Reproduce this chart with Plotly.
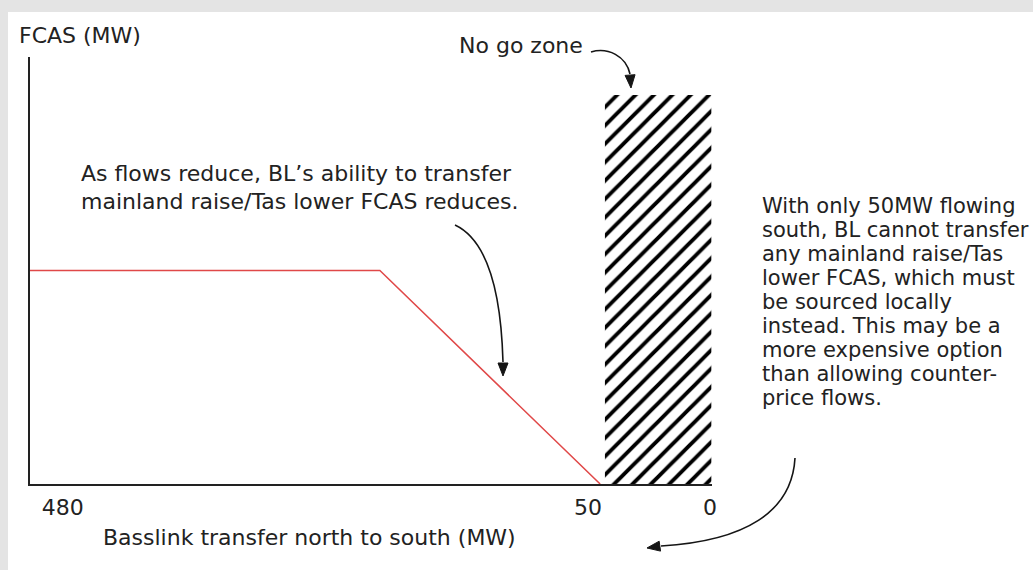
import math
import plotly.graph_objects as go

# ---------------- data (schematic positions) ----------------
transfer_tick_labels = ["480", "50", "0"]
transfer_tick_pos = [4.8, 81.8, 99.7]          # position of each label along the (schematic) transfer axis
fcas_curve_pos = [0.0, 51.3, 83.6]             # FCAS capability curve: transfer position
fcas_curve_level = [50.0, 50.0, 0.0]           # FCAS capability curve: level (schematic %)
nogo_pos = [84.3, 99.9]                        # "No go zone" extent along transfer axis
nogo_level = [0.0, 91.1]                       # "No go zone" vertical extent

y_axis_title = "FCAS (MW)"
x_axis_title = "Basslink transfer north to south (MW)"
nogo_text = "No go zone"
flow_note = ["As flows reduce, BL\u2019s ability to transfer",
             "mainland raise/Tas lower FCAS reduces."]
local_note = ["With only 50MW flowing",
              "south, BL cannot transfer",
              "any mainland raise/Tas",
              "lower FCAS, which must",
              "be sourced locally",
              "instead. This may be a",
              "more expensive option",
              "than allowing counter-",
              "price flows."]

# ---------------- layout helpers ----------------
W, H = 1033, 570
L, R, T, B = 30, 712, 57, 484
FONT = "DejaVu Sans"
TXT = "#222222"


def px(x):
    return (x - L) / (R - L)


def py(y):
    return (B - y) / (B - T)


def pt(x, y):
    return f"{px(x):.5f},{py(y):.5f}"


fig = go.Figure()

# no go zone (hatched)
fig.add_trace(go.Scatter(
    x=[nogo_pos[0], nogo_pos[1], nogo_pos[1], nogo_pos[0], nogo_pos[0]],
    y=[nogo_level[0], nogo_level[0], nogo_level[1], nogo_level[1], nogo_level[0]],
    mode="lines", line=dict(width=0, color="rgba(0,0,0,0)"),
    fill="toself", fillcolor="white",
    fillpattern=dict(shape="/", fgcolor="#000000", bgcolor="white", fgopacity=1,
                     fillmode="replace", size=13, solidity=0.3),
    hoverinfo="skip", showlegend=False,
))

# FCAS curve
fig.add_trace(go.Scatter(
    x=fcas_curve_pos, y=fcas_curve_level, mode="lines",
    line=dict(color="#e04848", width=1.5), showlegend=False,
))

shapes = []
# white panel over grey page
shapes.append(dict(type="rect", xref="paper", yref="paper",
                   x0=px(8), x1=px(1040), y0=py(12), y1=py(575),
                   fillcolor="white", line=dict(width=0), layer="below"))


def curve(p0, p1, p2, p3):
    return dict(type="path", xref="paper", yref="paper",
                path=f"M{pt(*p0)} C{pt(*p1)} {pt(*p2)} {pt(*p3)}",
                line=dict(color="#151515", width=1.6), layer="above")


def head(tip, frm, length=13, half=5):
    dx, dy = tip[0] - frm[0], tip[1] - frm[1]
    n = math.hypot(dx, dy)
    ux, uy = dx / n, dy / n
    bx, by = tip[0] - ux * length, tip[1] - uy * length
    lx, ly = bx - uy * half, by + ux * half
    rx, ry = bx + uy * half, by - ux * half
    return dict(type="path", xref="paper", yref="paper",
                path=f"M{pt(*tip)} L{pt(lx, ly)} L{pt(rx, ry)} Z",
                fillcolor="#151515", line=dict(color="#151515", width=1), layer="above")


# arrow: no go zone
shapes.append(curve((591, 52), (608, 47), (626, 56), (630, 74)))
shapes.append(head((631, 88), (630, 74)))
# arrow: flows reduce
shapes.append(curve((455, 225), (487, 240), (501, 290), (503, 362)))
shapes.append(head((503, 376), (503, 362)))
# arrow: local sourcing
shapes.append(curve((795, 458), (792, 512), (745, 541), (661, 546)))
shapes.append(head((647, 548), (661, 546)))

annotations = []


def text(s, x, baseline, size=22):
    annotations.append(dict(text=s, xref="paper", yref="paper",
                            x=px(x), y=py(baseline - 0.345 * size),
                            xanchor="left", yanchor="middle", showarrow=False,
                            font=dict(family=FONT, size=size, color=TXT)))


text(y_axis_title, 17, 43)
text(nogo_text, 457, 53)
text(flow_note[0], 79, 181)
text(flow_note[1], 79, 209)
for i, line in enumerate(local_note):
    text(line, 760, 213 + 24 * i, size=21)
text(x_axis_title, 101, 545)

fig.update_layout(
    width=W, height=H,
    margin=dict(l=L, r=W - R, t=T, b=H - B),
    paper_bgcolor="#e4e4e4", plot_bgcolor="rgba(0,0,0,0)",
    shapes=shapes, annotations=annotations, showlegend=False,
    xaxis=dict(range=[0, 100], showgrid=False, zeroline=False,
               showline=True, linecolor="#222222", linewidth=2,
               tickmode="array", tickvals=transfer_tick_pos, ticktext=transfer_tick_labels,
               ticks="", ticklabelstandoff=3,
               tickfont=dict(family=FONT, size=22, color=TXT),
               fixedrange=True),
    yaxis=dict(range=[0, 100], showgrid=False, zeroline=False,
               showline=True, linecolor="#222222", linewidth=2,
               showticklabels=False, ticks="", fixedrange=True),
)

fig.write_html("out.html",
               config={"displayModeBar": False},
               post_script="document.body.style.margin='0px';document.body.style.overflow='hidden';")
